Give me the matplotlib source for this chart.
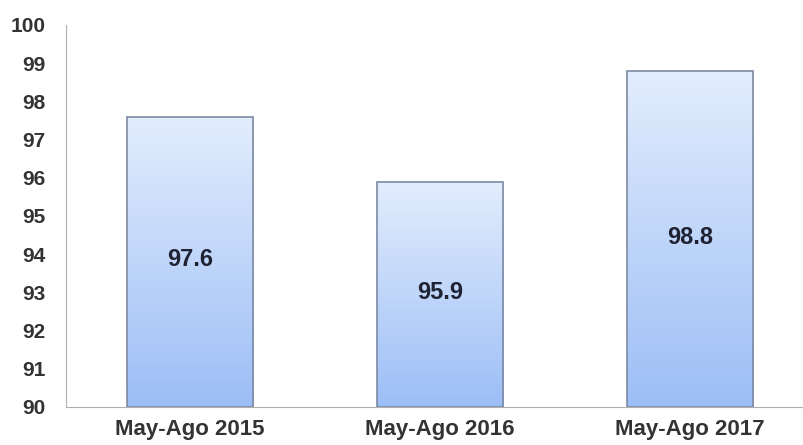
import numpy as np
import matplotlib
matplotlib.use('Agg')
import matplotlib.pyplot as plt
from matplotlib.colors import LinearSegmentedColormap

# ---------- Données ----------
periodes = ["May-Ago 2015", "May-Ago 2016", "May-Ago 2017"]
valeurs = [97.6, 95.9, 98.8]
y_ticks = list(range(90, 101))

plt.rcParams['font.family'] = ['Liberation Sans', 'DejaVu Sans']

fig = plt.figure(figsize=(8.04, 4.45), dpi=100)
ax = fig.add_axes([66/804, 1 - 407/445, 1 - 66/804, (407 - 25)/445])

ymin, ymax = 90, 100
ax.set_xlim(-0.496, 2.456)
ax.set_ylim(ymin, ymax)

grad = LinearSegmentedColormap.from_list("bleu", ["#9cbef6", "#e3edfd"])
g = np.linspace(0, 1, 256).reshape(-1, 1)

bars = ax.bar(range(len(valeurs)), [v - ymin for v in valeurs], bottom=ymin,
              width=0.505, facecolor="none", edgecolor="#7d8aa3", linewidth=1.2, zorder=3)
for b, v in zip(bars, valeurs):
    x0 = b.get_x()
    x1 = x0 + b.get_width()
    im = ax.imshow(g, cmap=grad, origin="lower", aspect="auto",
                   extent=[x0, x1, ymin, v], zorder=2)
    im.set_clip_path(b)
    ax.text(b.get_x() + b.get_width()/2, (ymin + v)/2 + 0.05, f"{v:.1f}",
            ha="center", va="center", fontsize=17, fontweight="bold",
            color="#1f2233", zorder=4)

ax.set_yticks(y_ticks)
ax.set_yticklabels([str(t) for t in y_ticks], fontsize=15, fontweight="bold", color="#333333")
ax.set_xticks(range(len(periodes)))
ax.set_xticklabels(periodes, fontsize=16, fontweight="bold", color="#333333")
ax.tick_params(axis="both", length=0)
ax.tick_params(axis="y", pad=15)
ax.tick_params(axis="x", pad=9)

for s in ["top", "right"]:
    ax.spines[s].set_visible(False)
ax.spines["left"].set_color("#b0b0b0")
ax.spines["bottom"].set_color("#b0b0b0")

fig.savefig("out.png", dpi=100)
